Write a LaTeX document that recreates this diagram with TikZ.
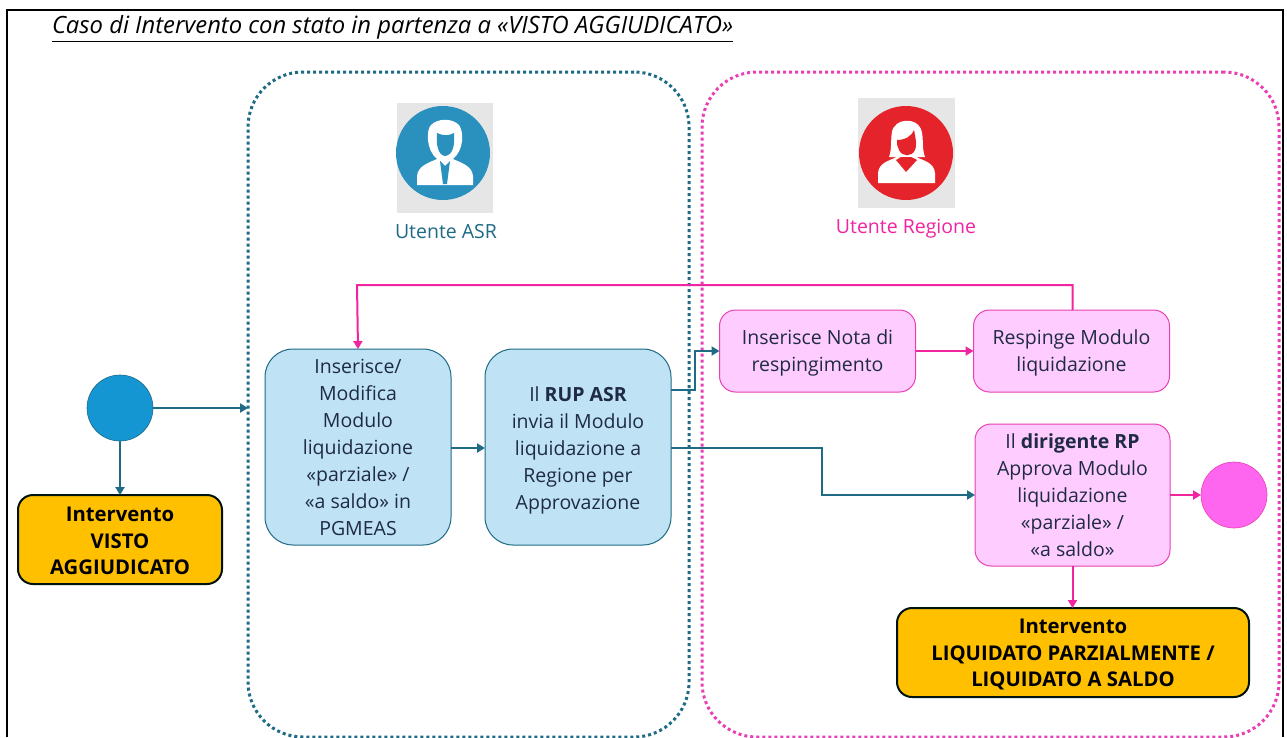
\documentclass[tikz,border=0pt]{standalone}
\usepackage{fontspec}
\setmainfont{Open Sans}
\usetikzlibrary{positioning}
\usetikzlibrary{arrows.meta}
\definecolor{asrteal}{HTML}{1F6A85}
\definecolor{asrfill}{HTML}{BFE3F5}
\definecolor{asrdot}{HTML}{1496D2}
\definecolor{asricon}{HTML}{2A90BE}
\definecolor{regpink}{HTML}{F0259F}
\definecolor{regline}{HTML}{E840B4}
\definecolor{regfill}{HTML}{FFCCFF}
\definecolor{regdot}{HTML}{FF66F0}
\definecolor{regicon}{HTML}{E5232A}
\definecolor{goldfill}{HTML}{FFC000}
\definecolor{inktext}{HTML}{1F2A44}
\definecolor{icongray}{HTML}{E6E6E6}
\newcommand{\lowertext}[1]{\rule{0pt}{#1}}
\tikzset{every node/.style={outer sep=0pt,inner sep=0pt,align=center,font=\fontsize{19.5}{27}\selectfont,text=inktext},
         panel/.style={draw,line width=3pt,dash pattern=on 3pt off 3pt,rounded corners=55pt,minimum height=665pt},
         asrbox/.style={draw=asrteal,fill=asrfill,line width=1pt,rounded corners=28pt,minimum width=186pt,minimum height=196pt},
         regbox/.style={draw=regline,fill=regfill,line width=1pt,rounded corners=16pt,minimum width=196pt,minimum height=82pt},
         goldbox/.style={draw=black!85!teal,fill=goldfill,line width=2pt,rounded corners=15pt,text=black,font=\fontsize{20.3}{26.5}\selectfont\bfseries},
         dot/.style={circle,draw=asrteal,line width=.6pt,minimum size=66pt},
         asrarrow/.style={draw=asrteal,line width=2pt,-{Triangle[length=8pt,width=9pt]}},
         regarrow/.style={draw=regpink,line width=2pt,-{Triangle[length=8pt,width=9pt]}},
         }
\begin{document}
\begin{tikzpicture}[x=1pt,y=-1pt]
\useasboundingbox (0,0) rectangle (1287,737);
\fill[white] (0,0) rectangle (1287,737);
% frame and title
\draw[black,line width=1.2pt] (7,737) -- (7,10) -- (1283,10) -- (1283,737);
\node[anchor=west,font=\fontsize{23.8}{26}\selectfont\itshape,text=black] (title) at (52,28.5)
    {\underline{Caso di Intervento con stato in partenza a «VISTO AGGIUDICATO»}};
% panels
\node[panel,draw=asrteal,minimum width=441pt] (asrpanel) at (468.5,404.5) {};
\node[panel,draw=regline,minimum width=577pt] (regpanel) at (990.5,404.5) {};
% user icons
\fill[icongray] (397,103) rectangle (493,213);
\node[circle,fill=asricon,minimum size=94pt] (asricon) at (443,153) {};
\fill[white] (417,185) -- (417,176) .. controls (418,166) and (428,163) .. (437,159)
    .. controls (426,150) and (426,130) .. (431,125) .. controls (438,118) and (452,118) .. (459,125)
    .. controls (464,132) and (464,150) .. (453,159) .. controls (462,163) and (472,166) .. (473,176)
    -- (473,185) -- cycle;
\fill[asricon] (437,133) .. controls (444,136) and (448,136) .. (454,133)
    .. controls (455,145) and (453,155) .. (445,156) .. controls (438,155) and (436,145) .. (437,133) -- cycle;
\fill[asricon] (440,161) -- (445,166) -- (450,161) -- (447,184) -- (443,184) -- cycle;
\node[text=asrteal] (asrlabel) at (446,232) {Utente ASR};
\fill[icongray] (858,98) rectangle (955,208);
\node[circle,fill=regicon,minimum size=94pt] (regicon) at (906,153) {};
\fill[white] (878,183) -- (878,173) .. controls (879,163) and (888,161) .. (897,157)
    -- (889,157) .. controls (893,148) and (889,130) .. (895,126) .. controls (900,119) and (914,119) .. (919,126)
    .. controls (925,132) and (921,148) .. (925,157) -- (916,157) .. controls (925,161) and (934,163) .. (935,173)
    -- (935,183) -- cycle;
\fill[regicon] (897,140) .. controls (905,140) and (912,136) .. (914,130)
    .. controls (916,140) and (917,146) .. (915,150) .. controls (912,157) and (902,157) .. (899,150) .. controls (897,147) and (897,144) .. (897,140) -- cycle;
\fill[regicon] (896,160) -- (906,172) -- (917,160) -- (911,157) -- (901,157) -- cycle;
\node[text=regpink] (reglabel) at (906,229) {Utente Regione};
% start side
\node[dot,fill=asrdot] (startdot) at (120,408) {};
\node[goldbox,minimum width=204pt,minimum height=89pt] (goldstart) at (120,539.5)
    {\lowertext{18pt}Intervento\\VISTO\\AGGIUDICATO};
% ASR boxes
\node[asrbox] (insertbox) at (358,447) {Inserisce/\\Modifica\\Modulo\\liquidazione\\«parziale» /\\«a saldo» in\\PGMEAS};
\node[asrbox,right=34pt of insertbox] (rupbox) {\lowertext{21pt}Il \textbf{RUP ASR}\\invia il Modulo\\liquidazione a\\Regione per\\Approvazione};
% Regione boxes
\node[regbox] (notabox) at (817.5,351) {\lowertext{19pt}Inserisce Nota di\\respingimento};
\node[regbox,right=58pt of notabox] (respingebox) {\lowertext{19pt}Respinge Modulo\\liquidazione};
\node[regbox,minimum width=195pt,minimum height=142pt] (dirbox) at (1072.5,495)
    {Il \textbf{dirigente RP}\\Approva Modulo\\liquidazione\\«parziale» /\\«a saldo»};
\node[dot,draw=regline,fill=regdot] (enddot) at (1234,495) {};
\node[goldbox,minimum width=352pt,minimum height=89pt] (goldend) at (1073,652.5)
    {\lowertext{19pt}Intervento\\LIQUIDATO PARZIALMENTE /\\LIQUIDATO A SALDO};
% connectors
\coordinate (rupnota) at (671,390);
\coordinate (rupdir) at (671,448);
\draw[asrarrow] (startdot.east) -- (startdot.east -| asrpanel.west);
\draw[asrarrow] (startdot) -- (goldstart);
\draw[asrarrow] (insertbox.east |- rupdir) -- (rupbox.west |- rupdir);
\draw[asrarrow] (rupnota) -- (695,390) -- (695,351) -- (notabox.west);
\draw[asrarrow] (rupdir) -- (822,448) -- (822,495) -- (dirbox.west);
\draw[regarrow] (notabox) -- (respingebox);
\draw[regarrow] (respingebox.north -| dirbox.north) -- (dirbox.north |- 0,285) -- (357,285) -- (insertbox.north);
\draw[regarrow] (dirbox) -- (enddot);
\draw[regarrow] (dirbox.south) -- (goldend.north -| dirbox.south);
\end{tikzpicture}
\end{document}
